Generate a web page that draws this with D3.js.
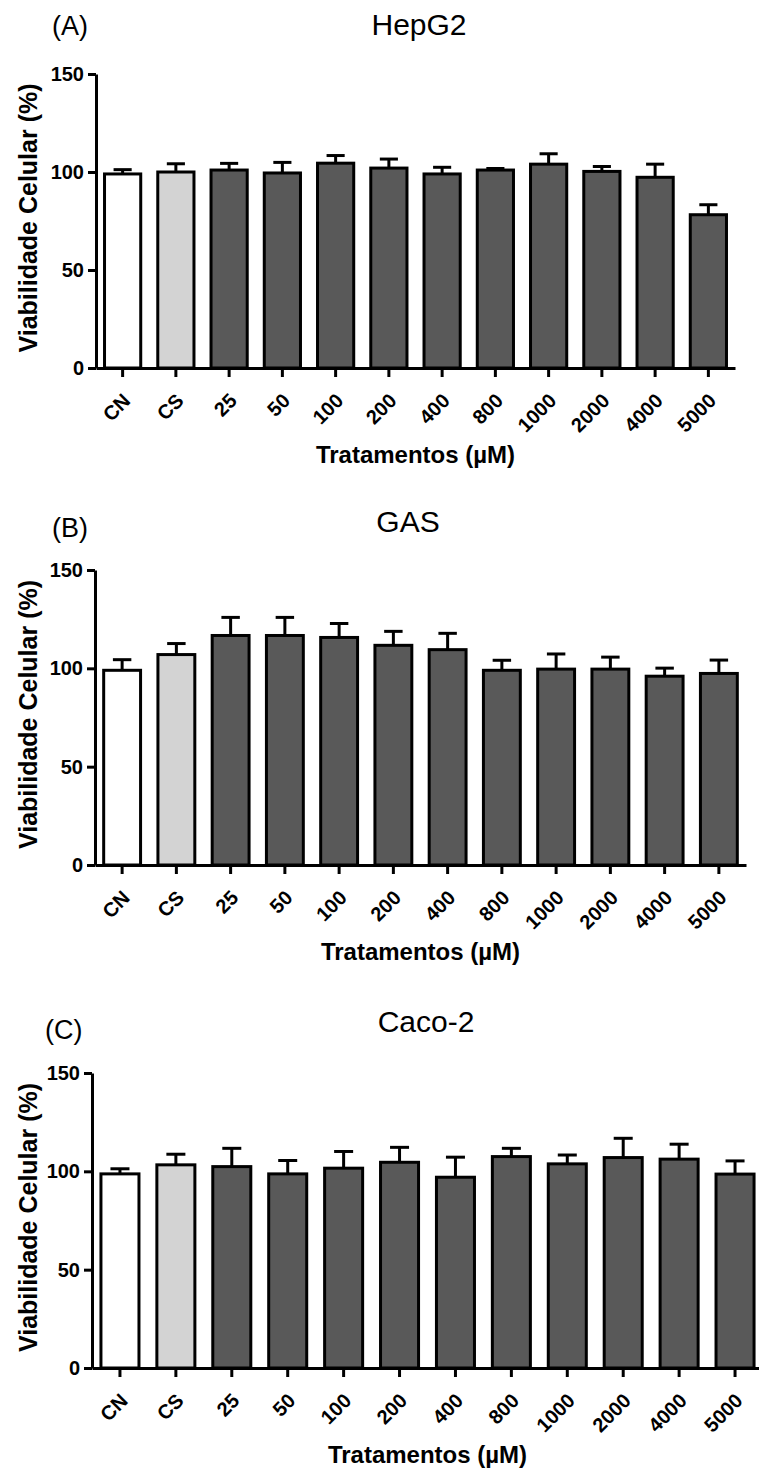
<!DOCTYPE html>
<html>
<head>
<meta charset="utf-8">
<script src="https://cdn.jsdelivr.net/npm/d3@7"></script>
<style>
  body { margin: 0; background: #fff; }
  svg { font-family: "Liberation Sans", Arial, sans-serif; }
</style>
</head>
<body>
<div id="chart"></div>
<script>
const categories = ["CN", "CS", "25", "50", "100", "200", "400", "800", "1000", "2000", "4000", "5000"];

// mean viability (%) and upper error (SEM) per treatment
const hepg2Mean = [99, 100, 101, 99.5, 104.5, 102, 99, 101, 104, 100.3, 97.3, 78.2];
const hepg2Sem  = [2.2, 4.2, 3.4, 5.4, 3.9, 4.6, 3.4, 0.8, 5.3, 2.5, 6.7, 5.1];

const gasMean = [99, 107, 116.7, 116.7, 115.7, 111.7, 109.5, 99, 99.6, 99.6, 96, 97.4];
const gasSem  = [5.4, 5.6, 9.2, 9.2, 7.1, 7.1, 8.3, 5.1, 7.7, 6.1, 4.1, 6.8];

const cacoMean = [98.7, 103.3, 102.4, 98.7, 101.6, 104.6, 97, 107.5, 103.8, 107, 106.2, 98.6];
const cacoSem  = [2.6, 5.4, 9.3, 6.8, 8.5, 7.6, 10.2, 4.2, 4.5, 9.8, 7.6, 6.7];

const yTicks = [0, 50, 100, 150];

const width = 759, height = 1468;
const font = "'Liberation Sans', Arial, sans-serif";

const barFill = (c) => c === "CN" ? "#ffffff" : c === "CS" ? "#d3d3d3" : "#595959";

const panels = [
    { label: "(A)", title: "HepG2", mean: hepg2Mean, sem: hepg2Sem,
      left: 96, right: 735, top: 74, bottom: 368, labelX: 52, labelY: 35, titleX: 419, titleY: 35 },
    { label: "(B)", title: "GAS", mean: gasMean, sem: gasSem,
      left: 95, right: 746, top: 570, bottom: 865, labelX: 52, labelY: 537, titleX: 408, titleY: 532 },
    { label: "(C)", title: "Caco-2", mean: cacoMean, sem: cacoSem,
      left: 92, right: 763, top: 1073, bottom: 1368, labelX: 45, labelY: 1039, titleX: 426, titleY: 1032 }
];

const svg = d3.select("#chart").append("svg")
    .attr("width", width)
    .attr("height", height);

svg.append("rect")
    .attr("width", width)
    .attr("height", height)
    .attr("fill", "#fff");

panels.forEach(p => {
    const x = d3.scaleBand()
        .domain(categories)
        .range([p.left, p.right])
        .paddingInner(0.32)
        .paddingOuter(0.16);

    const y = d3.scaleLinear()
        .domain([0, 150])
        .range([p.bottom, p.top]);

    const g = svg.append("g");

    const rows = categories.map((c, i) => ({ cat: c, mean: p.mean[i], sem: p.sem[i] }));

    // error bars (upper only)
    const err = g.append("g")
        .attr("stroke", "#000")
        .attr("stroke-width", 3);

    err.selectAll("line.v")
        .data(rows)
        .enter()
        .append("line")
        .attr("class", "v")
        .attr("x1", d => x(d.cat) + x.bandwidth() / 2)
        .attr("x2", d => x(d.cat) + x.bandwidth() / 2)
        .attr("y1", d => y(d.mean))
        .attr("y2", d => y(d.mean + d.sem));

    err.selectAll("line.cap")
        .data(rows)
        .enter()
        .append("line")
        .attr("class", "cap")
        .attr("x1", d => x(d.cat) + x.bandwidth() / 4)
        .attr("x2", d => x(d.cat) + x.bandwidth() * 3 / 4)
        .attr("y1", d => y(d.mean + d.sem))
        .attr("y2", d => y(d.mean + d.sem));

    g.append("g")
        .selectAll("rect")
        .data(rows)
        .enter()
        .append("rect")
        .attr("x", d => x(d.cat))
        .attr("y", d => y(d.mean))
        .attr("width", x.bandwidth())
        .attr("height", d => y(0) - y(d.mean))
        .attr("fill", d => barFill(d.cat))
        .attr("stroke", "#000")
        .attr("stroke-width", 3);

    // axes
    const yAxis = g.append("g")
        .attr("transform", `translate(${p.left},0)`)
        .call(d3.axisLeft(y).tickValues(yTicks).tickSize(8).tickSizeOuter(0).tickPadding(4));

    const xAxis = g.append("g")
        .attr("transform", `translate(0,${p.bottom})`)
        .call(d3.axisBottom(x).tickSize(9).tickSizeOuter(0));

    [yAxis, xAxis].forEach(a => {
        a.attr("font-family", null).attr("font-size", null);
        a.selectAll("path, line").attr("stroke", "#000").attr("stroke-width", 3);
        a.selectAll("text")
            .attr("fill", "#000")
            .style("font-weight", "bold")
            .style("font-family", font);
    });

    yAxis.selectAll("text").style("font-size", "20px");

    xAxis.selectAll("text")
        .style("font-size", "20px")
        .attr("text-anchor", "end")
        .attr("x", 0)
        .attr("y", 0)
        .attr("dy", "0.35em")
        .attr("transform", "translate(4,29) rotate(-45)");

    // titles
    g.append("text")
        .attr("x", p.labelX)
        .attr("y", p.labelY)
        .style("font-size", "27px")
        .attr("fill", "#000")
        .text(p.label);

    g.append("text")
        .attr("x", p.titleX)
        .attr("y", p.titleY)
        .attr("text-anchor", "middle")
        .style("font-size", "30px")
        .attr("fill", "#000")
        .text(p.title);

    g.append("text")
        .attr("transform", `translate(37,${(p.top + p.bottom) / 2 - 3}) rotate(-90)`)
        .attr("text-anchor", "middle")
        .style("font-size", "25px")
        .style("font-weight", "bold")
        .attr("fill", "#000")
        .text("Viabilidade Celular (%)");

    g.append("text")
        .attr("x", (p.left + p.right) / 2)
        .attr("y", p.bottom + 95)
        .attr("text-anchor", "middle")
        .style("font-size", "24px")
        .style("font-weight", "bold")
        .attr("fill", "#000")
        .text("Tratamentos (µM)");
});
</script>
</body>
</html>
